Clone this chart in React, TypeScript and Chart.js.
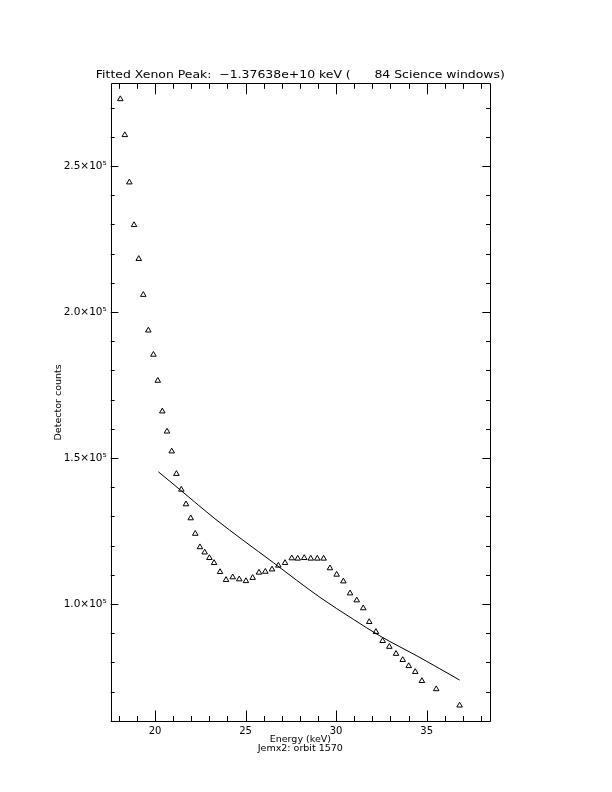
import React, { useEffect, useRef } from "react";
import { Chart, registerables } from "chart.js";

Chart.register(...registerables);

// Data (counts in units of 10^5)
const energy = [18.08, 18.33, 18.58, 18.84, 19.10, 19.35, 19.63, 19.91, 20.15, 20.40, 20.66, 20.92, 21.18, 21.45, 21.71, 21.97, 22.22, 22.48, 22.74, 23.00, 23.26, 23.59, 23.92, 24.29, 24.65, 25.02, 25.39, 25.74, 26.09, 26.46, 26.81, 27.18, 27.55, 27.88, 28.24, 28.60, 28.96, 29.31, 29.66, 30.03, 30.40, 30.77, 31.14, 31.50, 31.83, 32.20, 32.57, 32.94, 33.31, 33.68, 34.01, 34.37, 34.74, 35.53, 36.82];
const counts = [2.729, 2.606, 2.444, 2.298, 2.182, 2.059, 1.937, 1.854, 1.765, 1.660, 1.591, 1.523, 1.446, 1.392, 1.342, 1.294, 1.241, 1.195, 1.177, 1.158, 1.141, 1.110, 1.083, 1.092, 1.085, 1.079, 1.090, 1.108, 1.111, 1.119, 1.132, 1.141, 1.157, 1.156, 1.158, 1.156, 1.156, 1.156, 1.123, 1.101, 1.078, 1.037, 1.013, 0.986, 0.939, 0.905, 0.874, 0.854, 0.830, 0.809, 0.788, 0.768, 0.737, 0.709, 0.653];
const fitEnergy = [20.18, 21.45, 23.31, 26.53, 29.11, 30.95, 32.42, 34.63, 36.82];
const fitCounts = [1.453, 1.388, 1.292, 1.142, 1.023, 0.948, 0.891, 0.817, 0.740];

const xMajorTicks = [20, 25, 30, 35];
const xMinorTicks = [18, 19, 21, 22, 23, 24, 26, 27, 28, 29, 31, 32, 33, 34, 36, 37, 38];
const yMajorTicks = [1.0, 1.5, 2.0, 2.5];
const yMinorTicks = [0.6, 0.7, 0.8, 0.9, 1.1, 1.2, 1.3, 1.4, 1.6, 1.7, 1.8, 1.9, 2.1, 2.2, 2.3, 2.4, 2.6, 2.7];

const titleText = "Fitted Xenon Peak:  \u22121.37638e+10 keV (      84 Science windows)";
const xTitleLines = ["Energy (keV)", "Jemx2: orbit 1570"];
const yTitleText = "Detector counts";

const X_MIN = 17.55;
const X_MAX = 38.5;
const Y_MIN = 0.598;
const Y_MAX = 2.783;

const FONT = "'DejaVu Sans', 'Liberation Sans', sans-serif";

const framePlugin = {
  id: "idlFrame",
  afterDraw(chart: any) {
    const ctx = chart.ctx as CanvasRenderingContext2D;
    const { left, right, top, bottom } = chart.chartArea;
    const xs = chart.scales.x;
    const ys = chart.scales.y;
    ctx.save();
    ctx.strokeStyle = "#000";
    ctx.lineWidth = 1;
    ctx.beginPath();
    ctx.rect(Math.round(left) + 0.5, Math.round(top) + 0.5, Math.round(right - left), Math.round(bottom - top));
    ctx.stroke();
    const vt = (v: number, len: number) => {
      const p = Math.round(xs.getPixelForValue(v)) + 0.5;
      ctx.moveTo(p, bottom);
      ctx.lineTo(p, bottom - len);
      ctx.moveTo(p, top);
      ctx.lineTo(p, top + len);
    };
    const ht = (v: number, len: number) => {
      const p = Math.round(ys.getPixelForValue(v)) + 0.5;
      ctx.moveTo(left, p);
      ctx.lineTo(left + len, p);
      ctx.moveTo(right, p);
      ctx.lineTo(right - len, p);
    };
    ctx.beginPath();
    xMajorTicks.forEach((v) => vt(v, 11));
    xMinorTicks.forEach((v) => vt(v, 5.5));
    yMajorTicks.forEach((v) => ht(v, 7.7));
    yMinorTicks.forEach((v) => ht(v, 4));
    ctx.stroke();

    ctx.fillStyle = "#000";
    // Title
    ctx.font = `10.5px ${FONT}`;
    ctx.textAlign = "left";
    ctx.textBaseline = "middle";
    const target = 409;
    const w = ctx.measureText(titleText).width;
    const sx = target / w;
    const cx = (left + right) / 2;
    ctx.save();
    ctx.translate(cx - target / 2, top - 8);
    ctx.scale(sx, 1);
    ctx.fillText(titleText, 0, 0);
    ctx.restore();

    // X title lines
    ctx.font = `9.5px ${FONT}`;
    ctx.textAlign = "center";
    ctx.fillText(xTitleLines[0], cx, bottom + 18);
    ctx.fillText(xTitleLines[1], cx, bottom + 27);

    // Y title
    ctx.save();
    ctx.translate(left - 52, (top + bottom) / 2);
    ctx.rotate(-Math.PI / 2);
    ctx.font = `9.5px ${FONT}`;
    ctx.fillText(yTitleText, 0, 0);
    ctx.restore();
    ctx.restore();
  },
};

const bgPlugin = {
  id: "bgWhite",
  beforeDraw(chart: any) {
    const ctx = chart.ctx as CanvasRenderingContext2D;
    ctx.save();
    ctx.fillStyle = "#fff";
    ctx.fillRect(0, 0, chart.width, chart.height);
    ctx.restore();
  },
};

export default function App() {
  const ref = useRef<HTMLCanvasElement | null>(null);
  useEffect(() => {
    if (!ref.current) return;
    const chart = new Chart(ref.current, {
      type: "scatter",
      data: {
        datasets: [
          {
            type: "scatter",
            label: "data",
            data: energy.map((e, i) => ({ x: e, y: counts[i] })),
            pointStyle: "triangle",
            pointRadius: 3.2,
            pointBorderWidth: 1,
            borderColor: "#000",
            backgroundColor: "rgba(0,0,0,0)",
            showLine: false,
          } as any,
          {
            type: "line",
            label: "fit",
            data: fitEnergy.map((e, i) => ({ x: e, y: fitCounts[i] })),
            borderColor: "#000",
            borderWidth: 1,
            pointRadius: 0,
            fill: false,
            tension: 0.4,
            cubicInterpolationMode: "monotone",
          } as any,
        ],
      },
      options: {
        animation: false,
        responsive: false,
        devicePixelRatio: 1,
        layout: { padding: { left: 0, top: 83.3, right: 122, bottom: 0 } },
        plugins: {
          legend: { display: false },
          tooltip: { enabled: false },
          title: { display: false },
        },
        scales: {
          x: {
            type: "linear",
            min: X_MIN,
            max: X_MAX,
            grid: { display: false, drawTicks: false },
            border: { display: false },
            afterBuildTicks: (s: any) => {
              s.ticks = xMajorTicks.map((v) => ({ value: v }));
            },
            afterFit: (s: any) => {
              s.height = 792 - 721.5;
            },
            ticks: {
              padding: 4,
              color: "#000",
              font: { family: FONT, size: 10 },
              maxRotation: 0,
              autoSkip: false,
              callback: (v: any) => String(v),
            },
          },
          y: {
            type: "linear",
            min: Y_MIN,
            max: Y_MAX,
            grid: { display: false, drawTicks: false },
            border: { display: false },
            afterBuildTicks: (s: any) => {
              s.ticks = yMajorTicks.map((v) => ({ value: v }));
            },
            afterFit: (s: any) => {
              s.width = 110.7;
            },
            ticks: {
              padding: 4,
              color: "#000",
              font: { family: FONT, size: 10.5 },
              autoSkip: false,
              callback: (v: any) => Number(v).toFixed(1) + "\u00d710\u2075",
            },
          },
        },
      } as any,
      plugins: [bgPlugin, framePlugin],
    });
    return () => chart.destroy();
  }, []);
  return (
    <div style={{ position: "absolute", left: 0, top: 0, width: 612, height: 792, background: "#fff" }}>
      <canvas ref={ref} width={612} height={792} style={{ display: "block", width: 612, height: 792 }} />
    </div>
  );
}
